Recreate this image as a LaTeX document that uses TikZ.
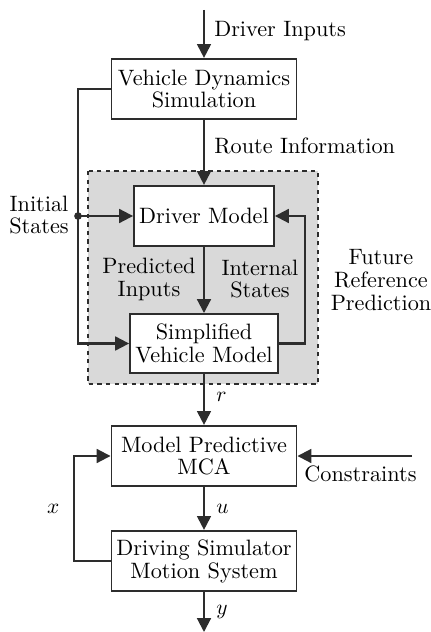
\documentclass[tikz,border=0pt]{standalone}
\usetikzlibrary{arrows.meta,positioning,calc,backgrounds}
\usepackage{amsmath}
\usepackage{xcolor}
\definecolor{linecolor}{RGB}{45, 45, 45}
\definecolor{predfill}{RGB}{217, 217, 217}

\begin{document}
\begin{tikzpicture}[x=0.01643cm, y=-0.01643cm, line width=0.9pt, draw=linecolor,
    every node/.style={font=\fontsize{10.4pt}{10.7pt}\selectfont},
    blockbox/.style={draw=linecolor, fill=white, line width=0.9pt, align=center, inner sep=2pt},
    sigarrow/.style={-{Triangle[length=6.5pt, width=6.5pt]}, draw=linecolor, line width=0.95pt}]
        \useasboundingbox (0,0) rectangle (430,632);
        % Prediction region (grey background)
        \fill[predfill] (88,171) rectangle (318,384);
        \draw[linecolor, dash pattern=on 2pt off 2pt, line width=0.7pt] (88,171) rectangle (318,384);
        % Main blocks
        \node[blockbox, minimum width=3.04cm, minimum height=0.99cm] (vds) at (204, 89) {Vehicle Dynamics \\ Simulation};
        \node[blockbox, minimum width=2.30cm, minimum height=0.99cm] (dm) at (204, 216) {Driver Model};
        \node[blockbox, minimum width=2.43cm, minimum height=0.97cm] (svm) at (204, 343.5) {Simplified \\ Vehicle Model};
        \node[blockbox, minimum width=3.04cm, minimum height=0.99cm] (mpc) at (204, 456) {Model Predictive \\ MCA};
        \node[blockbox, minimum width=3.04cm, minimum height=0.99cm] (dsms) at (204, 561) {Driving Simulator \\ Motion System};
        % Free ends
        \coordinate (drvin) at (204, 10);
        \coordinate (ctrin) at (412, 456);
        \coordinate (yout) at (204, 632);
        \coordinate (split) at (78, 216);
        % Inputs and signal flow
        \draw[sigarrow] (drvin) -- node[right=1pt, pos=0.45]{Driver Inputs} (vds.north);
        \draw[sigarrow] (vds.south) -- node[right=1pt, pos=0.4]{Route Information} (dm.north);
        \draw[sigarrow] (dm.south) -- (svm.north);
        \draw[sigarrow] (vds.west |- 0,89) -| (split) |- (svm.west);
        \fill[linecolor] (split) circle (1.8pt);
        \draw[sigarrow] (split) -- (dm.west);
        \draw[sigarrow] (svm.east) -| (305,280) |- (dm.east);
        \draw[sigarrow] (svm.south) -- node[right=2pt, pos=0.45]{$r$} (mpc.north);
        \draw[sigarrow] (ctrin) -- node[below=1pt, pos=0.45]{Constraints} (mpc.east);
        \draw[sigarrow] (mpc.south) -- node[right=2pt]{$u$} (dsms.north);
        \draw[sigarrow] (dsms.west) -| node[left=3pt, pos=0.75]{$x$} (74,456) -- (mpc.west);
        \draw[sigarrow] (dsms.south) -- node[right=2pt]{$y$} (yout);
        % Labels
        \node[align=center] (initlbl) at (39, 215) {Initial \\ States};
        \node[align=center] (predlbl) at (149, 279) {Predicted \\ Inputs};
        \node[align=center] (intlbl) at (260, 279) {Internal \\ States};
        \node[align=center] (futlbl) at (381, 280) {Future \\ Reference \\ Prediction};
    \end{tikzpicture}
\end{document}
